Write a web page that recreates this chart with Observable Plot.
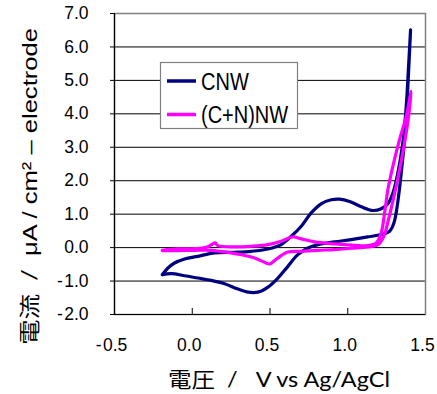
<!DOCTYPE html>
<html>
<head>
<meta charset="utf-8">
<script src="https://cdn.jsdelivr.net/npm/d3@7"></script>
<script src="https://cdn.jsdelivr.net/npm/@observablehq/plot@0.6"></script>
<style>
  html, body { margin: 0; padding: 0; background: #fff; }
  #chart svg { display: block; }
</style>
</head>
<body>
<div id="chart"></div>
<script>
// ---- data ----
const seriesNames = ["CNW", "(C+N)NW"];
const seriesColors = ["#000080", "#ff00ff"];

// CNW: anodic sweep then cathodic sweep
const cnwV = [-0.193,-0.156,-0.114,-0.049,0.036,0.144,0.272,0.379,0.487,0.572,0.637,0.701,0.765,0.829,0.894,0.947,1.012,1.087,1.162,1.215,1.258,1.290,1.322,1.354,1.376,1.391,1.404,
  1.395,1.382,1.365,1.344,1.318,1.297,1.269,1.215,1.129,1.022,0.915,0.808,0.744,0.679,0.615,0.551,0.487,0.422,0.358,0.294,0.208,0.122,0.036,-0.049,-0.135,-0.193];
const cnwI = [-0.81,-0.61,-0.46,-0.34,-0.26,-0.16,-0.14,-0.11,-0.04,0.09,0.34,0.64,1.04,1.31,1.43,1.45,1.38,1.22,1.11,1.16,1.31,1.63,2.23,3.13,4.22,5.42,6.51,
  5.62,4.42,3.23,2.23,1.24,0.74,0.49,0.39,0.32,0.24,0.17,0.09,-0.01,-0.21,-0.56,-0.91,-1.18,-1.33,-1.33,-1.24,-1.08,-0.98,-0.91,-0.84,-0.78,-0.81];

// (C+N)NW
const cnnV = [-0.193,-0.092,0.015,0.090,0.128,0.148,0.165,0.272,0.379,0.487,0.572,0.647,0.701,0.787,0.915,1.044,1.129,1.183,1.215,1.237,1.258,1.290,1.333,1.376,1.408,
  1.391,1.365,1.333,1.297,1.262,1.232,1.194,1.129,1.022,0.915,0.808,0.701,0.615,0.572,0.529,0.497,0.465,0.401,0.315,0.229,0.122,0.015,-0.092,-0.193];
const cnnI = [-0.08,-0.04,-0.03,0.01,0.10,0.14,0.06,0.02,0.04,0.09,0.19,0.32,0.26,0.17,0.11,0.07,0.06,0.14,0.44,1.04,1.73,2.43,3.23,3.92,4.67,
  3.92,3.13,2.33,1.53,0.84,0.34,0.09,0.02,-0.02,-0.06,-0.08,-0.11,-0.13,-0.24,-0.39,-0.49,-0.44,-0.31,-0.21,-0.14,-0.08,-0.08,-0.09,-0.09];

const xTicks = [-0.5, 0.0, 0.5, 1.0, 1.5];
const yTicks = [-2, -1, 0, 1, 2, 3, 4, 5, 6, 7];

const xTitleJa = "電圧";
const xTitleEn = "V vs Ag/AgCl";
const yTitleJa = "電流";
const yTitleEn = "μA / cm² – electrode";

// ---- build tables ----
const rows = [
  ...cnwV.map((v, i) => ({series: seriesNames[0], v, i: cnwI[i]})),
  ...cnnV.map((v, i) => ({series: seriesNames[1], v, i: cnnI[i]}))
];

const fmt = d => (d < 0 ? "-\u200a" + Math.abs(d).toFixed(1) : d.toFixed(1));
const latin = "'Liberation Sans', Arial, sans-serif";

const plot = Plot.plot({
  width: 437,
  height: 394,
  marginLeft: 114,
  marginRight: 12,
  marginTop: 13,
  marginBottom: 80,
  style: {fontFamily: latin, background: "#fff"},
  x: {domain: [-0.5, 1.5]},
  y: {domain: [-2, 7]},
  color: {domain: seriesNames, range: seriesColors},
  marks: [
    Plot.ruleY(yTicks.filter(d => d > -2 && d < 7), {stroke: "#000", strokeWidth: 1}),
    Plot.frame({stroke: "#808080", strokeWidth: 1.5}),
    Plot.ruleX([-0.5], {stroke: "#000", strokeWidth: 1.2}),
    Plot.ruleY([-2], {stroke: "#000", strokeWidth: 1.2}),
    Plot.line(rows, {x: "v", y: "i", z: "series", stroke: "series", strokeWidth: 3.2, curve: "catmull-rom", strokeLinejoin: "round"}),
    Plot.axisY({ticks: yTicks, tickSize: 4, tickPadding: 22, tickFormat: fmt, fontSize: 17.5, label: null, fill: "#000"}),
    Plot.axisX({ticks: [0, 0.5, 1.0], tickSize: -6, tickFormat: () => "", label: null}),
    Plot.axisX({ticks: xTicks, tickSize: 0, tickPadding: 24, tickFormat: fmt, fontSize: 17.5, label: null, dx: -3, fill: "#000"})
  ]
});

document.getElementById("chart").appendChild(plot);

const svg = d3.select(plot);

// legend
const lg = svg.append("g").attr("class", "legend").attr("text-anchor", "start");
lg.append("rect").attr("x", 160.5).attr("y", 62.5).attr("width", 137).attr("height", 66)
  .attr("fill", "#fff").attr("stroke", "#808080").attr("stroke-width", 1.2);
seriesNames.forEach((name, k) => {
  const cy = 81 + k * 33.5;
  lg.append("line").attr("x1", 167).attr("x2", 196).attr("y1", cy).attr("y2", cy)
    .attr("stroke", seriesColors[k]).attr("stroke-width", 3.5);
  lg.append("text").attr("transform", `translate(201,${cy + 8.5}) scale(1,1.15)`).attr("font-family", latin)
    .attr("font-size", 20).attr("fill", "#000").attr("text-anchor", "start").text(name);
});

// x-axis title
const xt = svg.append("text").attr("x", 168).attr("y", 387).attr("font-size", 21)
  .attr("fill", "#000").attr("text-anchor", "start")
  .attr("textLength", 222).attr("lengthAdjust", "spacingAndGlyphs");
xt.append("tspan").attr("font-family", "'Noto Sans CJK JP', sans-serif").text(xTitleJa);
xt.append("tspan").attr("font-family", "Lato, 'Open Sans', sans-serif").text("\u00a0\u00a0/\u00a0\u00a0 " + xTitleEn);

// y-axis title (rotated)
const yt = svg.append("text").attr("transform", "translate(37,345) rotate(-90)")
  .attr("font-size", 21).attr("fill", "#000").attr("text-anchor", "start")
  .attr("textLength", 317).attr("lengthAdjust", "spacingAndGlyphs");
yt.append("tspan").attr("font-family", "'Noto Sans CJK JP', sans-serif").text(yTitleJa);
yt.append("tspan").attr("font-family", "Lato, 'Open Sans', sans-serif").text("\u00a0\u00a0/\u00a0\u00a0");
yt.append("tspan").attr("font-family", latin).text(yTitleEn);
</script>
</body>
</html>
